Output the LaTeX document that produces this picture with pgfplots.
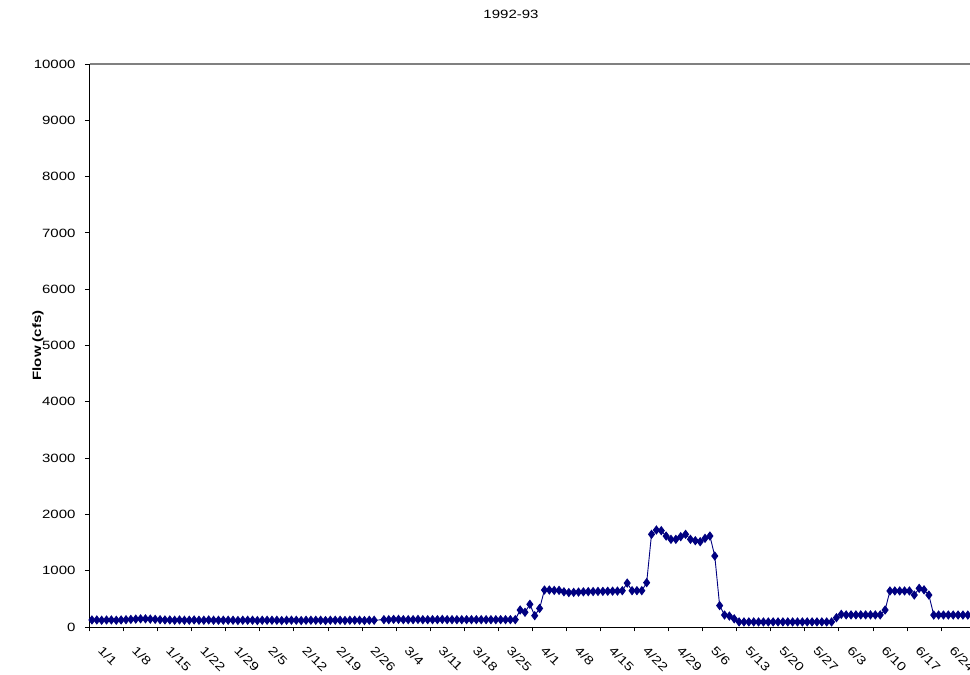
\documentclass[border=0pt]{standalone}
\usepackage{fontspec}
\setmainfont{Liberation Sans}[FakeStretch=1.25]
\usepackage{pgfplots}
\pgfplotsset{compat=1.18}
\definecolor{navy}{HTML}{000080}
\definecolor{bordergray}{HTML}{808080}
\begin{document}
\begin{tikzpicture}
\begin{axis}[
  name=ax,
  scale only axis,
  width=885.6bp, height=563bp,
  xmin=0, xmax=182,
  ymin=0, ymax=10000,
  axis x line*=bottom, axis y line*=left,
  axis line style={black, line width=0.8bp, -},
  xtick={0,7,...,175},
  xticklabels={1/1,1/8,1/15,1/22,1/29,2/5,2/12,2/19,2/26,3/4,3/11,3/18,3/25,4/1,4/8,4/15,4/22,4/29,5/6,5/13,5/20,5/27,6/3,6/10,6/17,6/24},
  ytick={0,1000,...,10000},
  scaled y ticks=false,
  tick align=outside,
  major tick length=4.5bp,
  tick style={black, line width=0.8bp},
  /pgf/number format/assume math mode=true,
  /pgf/number format/1000 sep={},
  tick label style={font=\fontsize{12bp}{14bp}\selectfont},
  yticklabel style={anchor=east, xshift=-6bp},
  xticklabel style={xshift=14bp, yshift=-9bp, rotate=-45, anchor=north west},
  ylabel={Flow (cfs)},
  ylabel style={font=\fontsize{12bp}{14bp}\selectfont\bfseries, at={(axis description cs:-0.058,0.5)}, anchor=center, rotate=0},
  clip=false,
]
\addplot[navy, line width=0.9bp, mark=diamond*, mark size=4bp, mark options={navy, fill=navy}] coordinates {
(0.5,125)(1.5,125)(2.5,120)(3.5,125)(4.5,125)(5.5,120)(6.5,125)
(7.5,130)(8.5,135)(9.5,140)(10.5,145)(11.5,145)(12.5,140)(13.5,135)(14.5,130)
(15.5,125)(16.5,125)(17.5,120)(18.5,125)(19.5,120)(20.5,120)(21.5,125)(22.5,120)(23.5,120)(24.5,125)(25.5,120)(26.5,120)(27.5,120)(28.5,120)
(29.5,120)(30.5,115)(31.5,120)(32.5,120)(33.5,120)(34.5,115)(35.5,120)(36.5,120)(37.5,120)(38.5,120)
(39.5,115)(40.5,120)(41.5,120)(42.5,120)(43.5,115)(44.5,120)(45.5,120)(46.5,120)(47.5,120)(48.5,115)
(49.5,120)(50.5,120)(51.5,120)(52.5,115)(53.5,120)(54.5,120)(55.5,120)(56.5,115)(57.5,120)(58.5,120)
(60.5,130)(61.5,130)(62.5,135)(63.5,135)(64.5,130)(65.5,130)(66.5,130)(67.5,135)(68.5,130)(69.5,130)
(70.5,130)(71.5,130)(72.5,135)(73.5,130)(74.5,130)(75.5,130)(76.5,130)(77.5,130)(78.5,130)(79.5,130)
(80.5,130)(81.5,130)(82.5,130)(83.5,130)(84.5,130)(85.5,130)(86.5,130)(87.5,130)
(88.5,302)(89.5,261)(90.5,403)(91.5,201)(92.5,330)(93.5,657)(94.5,657)(95.5,650)(96.5,650)(97.5,625)
(98.5,612)(99.5,615)(100.5,620)(101.5,625)(102.5,628)(103.5,630)(104.5,632)(105.5,633)(106.5,635)(107.5,637)
(108.5,638)(109.5,645)(110.5,780)(111.5,645)(112.5,645)(113.5,645)(114.5,787)(115.5,1646)(116.5,1723)(117.5,1711)
(118.5,1616)(119.5,1557)(120.5,1557)(121.5,1604)(122.5,1646)(123.5,1557)(124.5,1533)(125.5,1515)(126.5,1575)(127.5,1616)
(128.5,1261)(129.5,380)(130.5,213)(131.5,195)(132.5,145)
(133.5,90)(134.5,90)(135.5,90)(136.5,90)(137.5,90)(138.5,90)(139.5,90)(140.5,90)(141.5,90)(142.5,90)
(143.5,90)(144.5,90)(145.5,90)(146.5,90)(147.5,90)(148.5,90)(149.5,90)(150.5,90)(151.5,90)(152.5,90)
(153.5,165)(154.5,225)(155.5,215)(156.5,215)(157.5,215)(158.5,215)(159.5,215)(160.5,215)(161.5,215)(162.5,215)
(163.5,302)(164.5,640)(165.5,640)(166.5,640)(167.5,640)(168.5,640)(169.5,568)(170.5,687)(171.5,660)(172.5,568)
(173.5,213)(174.5,213)(175.5,213)(176.5,213)(177.5,213)(178.5,213)(179.5,213)(180.5,213)(181.5,213)
};
\end{axis}
\draw[bordergray, line width=1.6bp] (ax.north west) -- (ax.north east);
\node[font=\fontsize{12bp}{14bp}\selectfont] at ([xshift=421.5bp, yshift=50bp]ax.north west) {1992-93};
\pgfresetboundingbox
\path[use as bounding box] ([xshift=-89.5bp,yshift=-48bp]ax.south west) rectangle ([xshift=880.5bp,yshift=64bp]ax.north west);
\end{tikzpicture}
\end{document}
